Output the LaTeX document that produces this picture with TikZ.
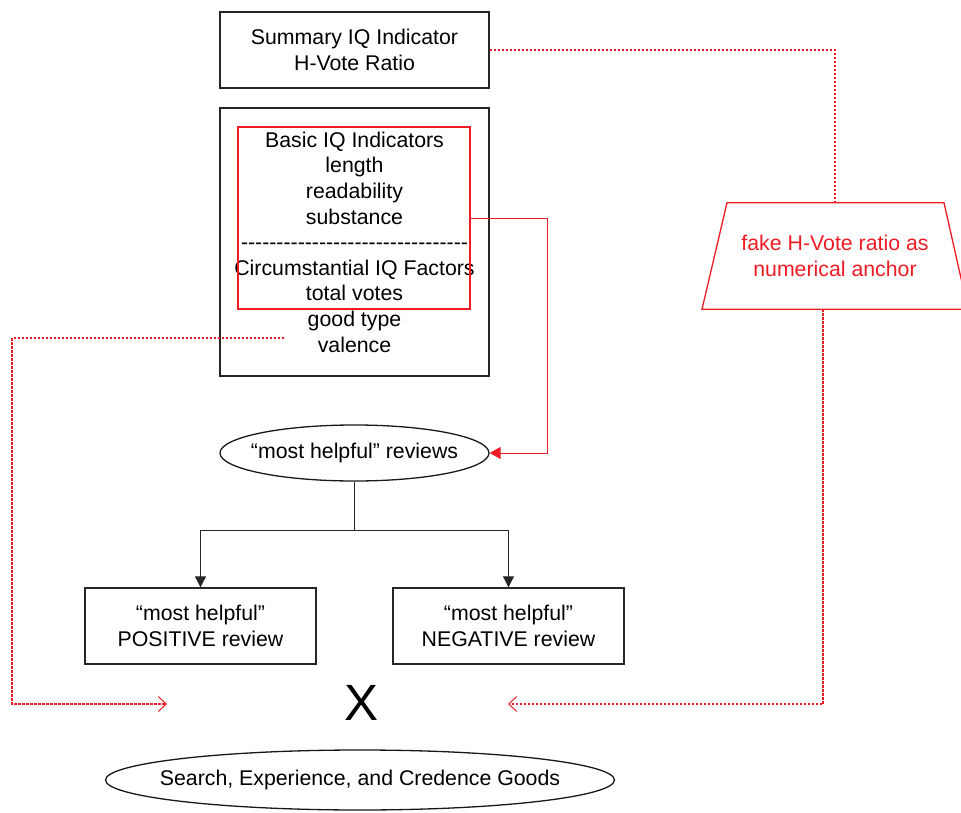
\documentclass[tikz,border=0pt]{standalone}
\usepackage{fontspec}
\setmainfont{Liberation Sans}[Ligatures=TeXOff]
\usetikzlibrary{arrows.meta,shapes.geometric}
\definecolor{flowred}{HTML}{ED1C24}
\tikzset{
  txt/.style={font=\fontsize{21.3}{25.6}\selectfont},
  box/.style={draw=black!85, line width=1.4pt, inner sep=0pt, align=center, txt},
  oval/.style={ellipse, draw=black!90, line width=1.3pt, inner sep=0pt},
  link/.style={draw=black!85, line width=1pt, -{Triangle[length=11pt,width=11pt]}},
  redlink/.style={draw=flowred, line width=0.9pt, -{Triangle[length=11pt,width=12pt]}},
  anchorlink/.style={draw=flowred, line width=1.6pt, dash pattern=on 2.5pt off 1.5pt,
    -{Straight Barb[length=8pt,width=15pt,line width=1pt]}},
  anchorline/.style={draw=flowred, line width=1.6pt, dash pattern=on 2.5pt off 1.5pt},
}
\begin{document}
\begin{tikzpicture}[x=1pt,y=-1pt]
\useasboundingbox (0,0) rectangle (961,813);

% indicator boxes
\node[box, minimum width=269pt, minimum height=76pt] (sum) at (354.5,50)
  {Summary IQ Indicator\\H-Vote Ratio};
\node[box, minimum width=269pt, minimum height=268pt] (iq) at (354.5,242)
  {Basic IQ Indicators\\length\\readability\\substance\\
   --------------------------------\\Circumstantial IQ Factors\\total votes\\good type\\valence};
\node[draw=flowred, line width=2.8pt, minimum width=232pt, minimum height=182pt,
  inner sep=0pt] (basic) at (354,218) {};

% anchor manipulation: text node framed by a trapezoid
\node[minimum height=106pt, inner sep=0pt, align=center, text=flowred, txt]
  (fake) at (835,256) {fake H-Vote ratio as\\numerical anchor};
\draw[flowred, line width=1.3pt, line join=miter]
  ([xshift=-108pt]fake.north) -- ([xshift=109pt]fake.north)
  -- ([xshift=133pt]fake.south) -- ([xshift=-133pt]fake.south) -- cycle;

% reviews
\node[oval, minimum width=269pt, minimum height=56pt,
  label={[txt]center:“most helpful” reviews}] (mh) at (354.5,453) {};
\node[box, minimum width=231pt, minimum height=76pt] (pos) at (200.5,626)
  {“most helpful”\\POSITIVE review};
\node[box, minimum width=231pt, minimum height=76pt] (neg) at (508.5,626)
  {“most helpful”\\NEGATIVE review};

\node[inner sep=0pt, font=\fontsize{51}{51}\selectfont] (x) at (362,703) {X};

\node[oval, minimum width=509pt, minimum height=60pt,
  label={[txt]center:Search, Experience, and Credence Goods}] (goods) at (360,780) {};

% connector points
\coordinate (split) at (354.5,530);
\coordinate (rturn) at (547,218);
\coordinate (lstart) at (284,338);
\coordinate (lcorner) at (12,704);
\coordinate (lend) at (167,704);
\coordinate (fbot) at (823,309);
\coordinate (rcorner) at (823,704);
\coordinate (rend) at (508,704);

% connectors
\draw[line width=1pt, draw=black!85] (mh.south) -- (split);
\draw[link] (split) -| (pos.north);
\draw[link] (split) -| (neg.north);
\draw[redlink] (basic.east) -- (rturn) |- (mh.east);
\draw[anchorline] (sum.east) -| (fake.north);
\draw[anchorlink] (lstart) -| (lcorner) -- (lend);
\draw[anchorlink] (fbot) -- (rcorner) -- (rend);
\end{tikzpicture}
\end{document}
